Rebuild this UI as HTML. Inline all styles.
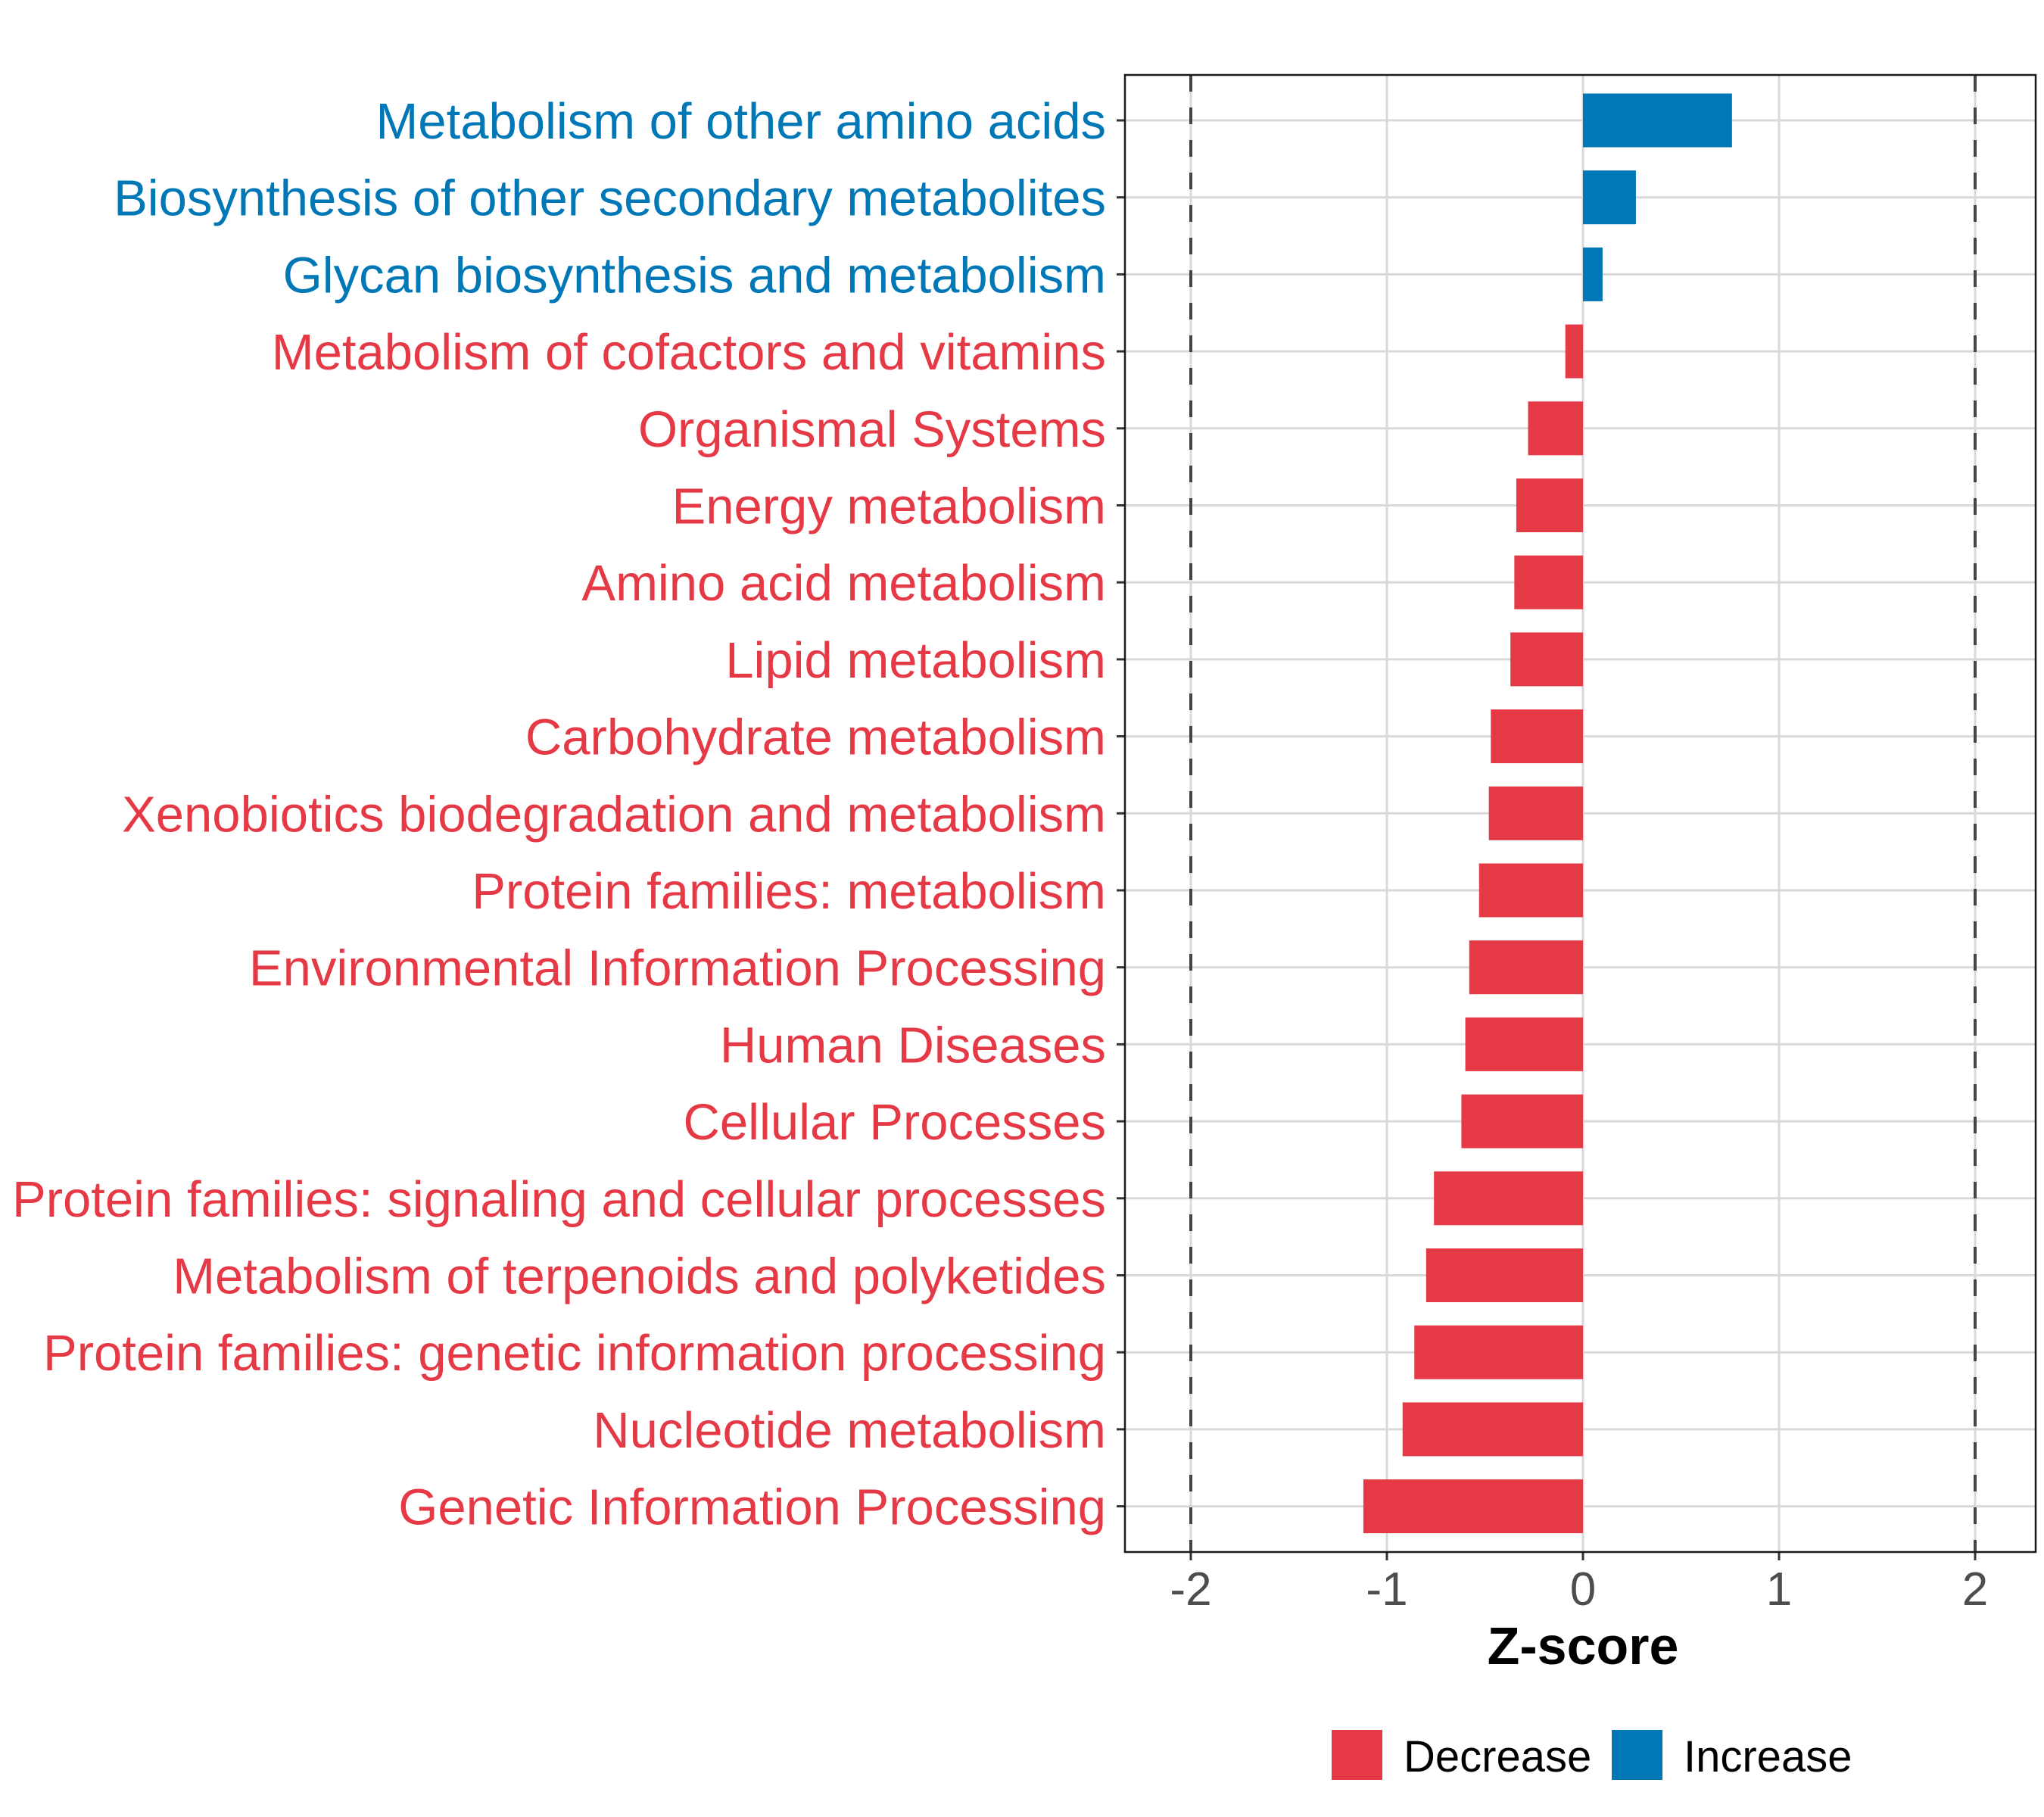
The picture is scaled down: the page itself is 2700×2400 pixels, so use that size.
<!DOCTYPE html>
<html><head><meta charset="utf-8"><style>
html,body{margin:0;padding:0;background:#fff;}
svg{display:block;font-family:"Liberation Sans",Arial,sans-serif;}
</style></head><body>
<svg id="chart" width="2700" height="2400" viewBox="0 0 2700 2400" xmlns="http://www.w3.org/2000/svg">
<rect width="2700" height="2400" fill="#fff"/>
<g id="grid"></g>
<g id="bars"></g>
<g id="ylabels"></g>
<g id="xaxis"></g>
<rect x="1486" y="99" width="1203" height="1951" fill="none" stroke="#1a1a1a" stroke-width="2.5"/>
<text x="2091" y="2198" text-anchor="middle" font-size="70" font-weight="bold" fill="#000">Z-score</text>
<g>
<rect x="1759" y="2285" width="67" height="66" fill="#E63946"/>
<text x="1854" y="2340" font-size="58" fill="#000">Decrease</text>
<rect x="2129" y="2285" width="67" height="66" fill="#0077B6"/>
<text x="2224" y="2340" font-size="58" fill="#000">Increase</text>
</g>
</svg>
<script>
const categories = ["Metabolism of other amino acids","Biosynthesis of other secondary metabolites","Glycan biosynthesis and metabolism","Metabolism of cofactors and vitamins","Organismal Systems","Energy metabolism","Amino acid metabolism","Lipid metabolism","Carbohydrate metabolism","Xenobiotics biodegradation and metabolism","Protein families: metabolism","Environmental Information Processing","Human Diseases","Cellular Processes","Protein families: signaling and cellular processes","Metabolism of terpenoids and polyketides","Protein families: genetic information processing","Nucleotide metabolism","Genetic Information Processing"];
const zscores = [0.76,0.27,0.10,-0.09,-0.28,-0.34,-0.35,-0.37,-0.47,-0.48,-0.53,-0.58,-0.60,-0.62,-0.76,-0.80,-0.86,-0.92,-1.12];
const xTicks = [-2,-1,0,1,2];
const xTickLabels = ["-2","-1","0","1","2"];
const thresholds = [-2,2];

const NS="http://www.w3.org/2000/svg";
const X0=2091, UNIT=259, Y0=159, STEP=101.7, BARH=71;
function xs(v){return X0+v*UNIT;}
function ys(i){return Y0+i*STEP;}
function mk(tag,attrs,parent){const e=document.createElementNS(NS,tag);for(const k in attrs)e.setAttribute(k,attrs[k]);parent.appendChild(e);return e;}
const grid=document.getElementById('grid'),bars=document.getElementById('bars'),yl=document.getElementById('ylabels'),xa=document.getElementById('xaxis');
xTicks.forEach((t,i)=>{
  const l=mk('line',{x1:xs(t),x2:xs(t),y1:99,y2:2050,stroke:'#d9d9d9','stroke-width':3},grid);
  
  
  const tk=mk('line',{x1:xs(t),x2:xs(t),y1:2050,y2:2061,stroke:'#333','stroke-width':3},xa);
  
  
  const tx=mk('text',{x:xs(t),y:2120,'text-anchor':'middle','font-size':62,fill:'#4d4d4d'},xa);
  tx.textContent=xTickLabels[i];
  
  
});
categories.forEach((c,i)=>{
  const y=ys(i);
  const g=mk('line',{x1:1486,x2:2689,y1:y,y2:y,stroke:'#d9d9d9','stroke-width':3},grid);
  
  
  const v=zscores[i];
  const col=v>=0?'#0077B6':'#E63946';
  const r=mk('rect',{x:Math.min(xs(0),xs(v)),y:y-BARH/2,width:Math.abs(xs(v)-xs(0)),height:BARH,fill:col},bars);
  
  
  const tk=mk('line',{x1:1475,x2:1486,y1:y,y2:y,stroke:'#333','stroke-width':3},yl);
  
  
  const t=mk('text',{x:1461,y:y+24,'text-anchor':'end','font-size':67,fill:col},yl);
  t.textContent=c;
  
  
});
thresholds.forEach(t=>{
  const l=mk('line',{x1:xs(t),x2:xs(t),y1:99,y2:2050,stroke:'#444','stroke-width':4,'stroke-dasharray':'22,21'},bars);
  
  
});
</script>
</body></html>
